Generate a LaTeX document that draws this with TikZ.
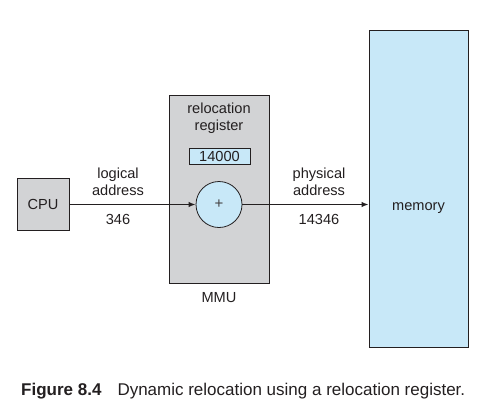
\documentclass[tikz,border=0pt]{standalone}
\usepackage{fontspec}
\setmainfont{Liberation Sans}
\usetikzlibrary{arrows.meta}
\definecolor{boxgray}{RGB}{210,211,213}
\definecolor{memblue}{RGB}{200,232,248}
\definecolor{ink}{RGB}{35,31,32}
\tikzset{
  box/.style={draw=ink, line width=0.8pt, inner sep=0pt},
  lbl/.style={text=ink, font=\fontsize{14.6}{17}\selectfont, align=center, inner sep=0pt},
  flow/.style={draw=ink, line width=1.9pt, -{Latex[length=7pt,width=5.5pt]}},
}
\begin{document}
\begin{tikzpicture}[x=1pt,y=-1pt]
\useasboundingbox (0,0) rectangle (494,408);
\node[box, fill=boxgray, minimum width=100pt, minimum height=188pt] (mmu) at (219,189) {};
\node[box, fill=memblue, minimum width=99pt, minimum height=317pt] (mem) at (418.5,188.5) {};
\node[box, fill=boxgray, minimum width=52pt, minimum height=52pt] (cpu) at (43,204.5) {};
\node[lbl] (cputxt) at (cpu.center) {CPU};
\node[box, fill=memblue, minimum width=61pt, minimum height=16pt] (reg) at (219.5,156) {};
\node[lbl] (regtxt) at (reg.center) {14000};
\node[box, fill=memblue, circle, minimum size=46pt] (plus) at (219,204.5) {};
\node[text=ink!85, font=\fontsize{15}{15}\selectfont, inner sep=0pt] (plustxt) at (plus.center) {+};
\node[lbl] (reltxt) at (219,118) {relocation\\register};
\node[lbl] (mmutxt) at (219,298) {MMU};
\node[lbl, anchor=base] (memtxt) at (418.5,210) {memory};
\node[lbl] (logtxt) at (118,182) {logical\\address};
\node[lbl] (lognum) at (118,219.5) {346};
\node[lbl] (phytxt) at (319,182) {physical\\address};
\node[lbl] (phynum) at (319,219.5) {14346};
\draw[flow] (cpu.east |- plus.west) -- (plus.west);
\draw[flow] (plus.east) -- (mem.west |- plus.east);
\node[anchor=base west, text=ink, font=\fontsize{17}{20}\selectfont, inner sep=0pt] (cap) at (21,395) {\textbf{Figure 8.4}\hspace{16pt}Dynamic relocation using a relocation register.};
\end{tikzpicture}
\end{document}
